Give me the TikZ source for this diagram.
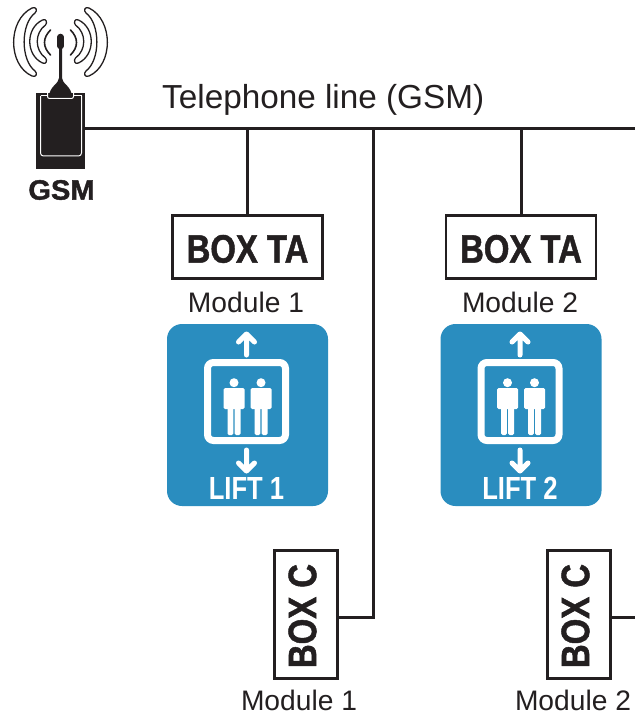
\documentclass[tikz,border=0pt]{standalone}
\usepackage{fontspec}
\setmainfont{Liberation Sans}
\newfontfamily\condfont[FakeStretch=0.83,FakeBold=1.2]{Liberation Sans Bold}
\newfontfamily\liftfont[FakeStretch=0.8]{Liberation Sans Bold}
\newfontfamily\gsmfont[FakeBold=1.5,FakeStretch=1.04]{Liberation Sans Bold}
\definecolor{liftblue}{HTML}{2A8DBF}
\definecolor{inkblack}{HTML}{231F20}
\tikzset{
    wire/.style={inkblack, line width=3pt},
    wave/.style={fill=white, draw=inkblack, line width=1.3pt, line join=round},
    boxta/.style={draw=inkblack, line width=2.4pt, fill=white, minimum width=150pt, minimum height=63pt, inner sep=0pt, outer sep=0pt},
    boxc/.style={boxta, minimum width=63pt, minimum height=128pt},
    boxlabel/.style={inkblack, font=\condfont\fontsize{39.6}{40}\selectfont, inner sep=0pt},
    modlabel/.style={inkblack, font=\fontsize{28.2}{28}\selectfont, inner sep=0pt},
    lift/.pic={
        \fill[liftblue, rounded corners=15pt] (-80.5,-91) rectangle (80.5,91);
        % cabin
        \draw[white, line width=7pt, rounded corners=6pt] (-40,-52.5) rectangle (38,25.5);
        % arrows
        \draw[white, line width=5pt, line cap=round, line join=round] (-1,-60) -- (-1,-81) (-9,-73) -- (-1,-81) -- (7,-73);
        \draw[white, line width=5pt, line cap=round, line join=round] (-1,35) -- (-1,56) (-9,48) -- (-1,56) -- (7,48);
        % people
        \foreach \px in {-13.5,13.5}{
            \fill[white] (\px,-32.3) circle (4.5);
            \fill[white, rounded corners=1.5pt] (\px-10.5,-27) rectangle (\px+10.5,-6);
            \fill[white, rounded corners=1.5pt] (\px-6.5,-15) rectangle (\px-0.7,20);
            \fill[white, rounded corners=1.5pt] (\px+0.7,-15) rectangle (\px+6.5,20);
        }
        \node[white, font=\liftfont\fontsize{32}{32}\selectfont, inner sep=0pt] (-label) at (-1,73.5) {LIFT #1};
    }
}
\begin{document}
\begin{tikzpicture}[x=1pt, y=-1pt]
    \useasboundingbox (0,0) rectangle (635,714);
    % radio waves
    \foreach \side in {1,-1}{
        \begin{scope}[shift={(60.5,0)}, xscale=\side]
            \draw[wave] (-28.5,8) .. controls (-53,20) and (-53,65) .. (-28.5,76) .. controls (-24,78) and (-23,73) .. (-25.5,71) .. controls (-40,60) and (-40,24) .. (-25.5,13) .. controls (-23,11) and (-24,6) .. (-28.5,8) -- cycle;
            \draw[wave] (-18,20) .. controls (-35,28) and (-35,55) .. (-18,63) .. controls (-14,65) and (-13,60) .. (-15,58) .. controls (-26,50) and (-26,33) .. (-15,25) .. controls (-13,23) and (-14,18) .. (-18,20) -- cycle;
            \draw[inkblack, line width=1.6pt, line cap=round] (-10,30) .. controls (-18,38) and (-18,47) .. (-10,55);
        \end{scope}
    }
    % gsm unit
    \node[fill=inkblack, minimum width=49pt, minimum height=76pt, inner sep=0pt, outer sep=0pt] (gsm) at (60.5,131) {};
    \draw[white, line width=1pt, rounded corners=3pt] (40.5,96) -- (40.5,156) -- (81.5,156) -- (81.5,96);
    \draw[white, line width=1pt] (40.5,96) -- (47,96);
    \draw[white, line width=1pt] (74,96) -- (81.5,96);
    \draw[white, line width=1pt, rounded corners=2pt] (47.5,93) -- (47.5,98.5) -- (73.5,98.5) -- (73.5,93);
    % antenna
    \draw[inkblack, line width=6.5pt, line cap=round] (60.5,37) -- (60.5,46);
    \fill[inkblack] (59,47) -- (62,47) -- (62,78) .. controls (62,84) and (72,86) .. (72,97.5) -- (49,97.5) .. controls (49,86) and (59,84) .. (59,78) -- cycle;
    \node[inkblack, font=\gsmfont\fontsize{28}{28}\selectfont, inner sep=0pt] (gsmlabel) at (61.5,190) {GSM};
    % line
    \coordinate (linestart) at (85,129);
    \coordinate (lineend) at (635,129);
    \node[inkblack, font=\fontsize{33.3}{33}\selectfont, inner sep=0pt, anchor=base west] (linelabel) at (162,109) {Telephone line (GSM)};
    % module 1
    \node[boxta] (boxta1) at (247.5,247) {};
    \node[boxlabel, yshift=-2pt] at (boxta1) {BOX TA};
    \node[modlabel] (modta1) at (246,302) {Module 1};
    \pic (lift1) at (247.5,415) {lift=1};
    \node[boxc] (boxc1) at (306,614.5) {};
    \node[boxlabel, rotate=90, xshift=-1.5pt, yshift=3.5pt] at (boxc1) {BOX C};
    \node[modlabel] (modc1) at (299,700.5) {Module 1};
    % module 2
    \node[boxta] (boxta2) at (521,247) {};
    \node[boxlabel, yshift=-2pt] at (boxta2) {BOX TA};
    \node[modlabel] (modta2) at (520,302) {Module 2};
    \pic (lift2) at (521,415) {lift=2};
    \node[boxc] (boxc2) at (579,614.5) {};
    \node[boxlabel, rotate=90, xshift=-1.5pt, yshift=3.5pt] at (boxc2) {BOX C};
    \node[modlabel] (modc2) at (573,700.5) {Module 2};
    % connectors
    \coordinate (trunk) at (373,129);
    \coordinate (port1) at (338,617);
    \coordinate (port2) at (611,617);
    \coordinate (port2end) at (635,617);
    \draw[wire] (linestart) -- (lineend);
    \draw[wire] (boxta1.north) -- (boxta1.north |- lineend);
    \draw[wire] (boxta2.north) -- (boxta2.north |- lineend);
    \draw[wire, line join=miter] (trunk) |- (port1);
    \draw[wire] (port2) -- (port2end);
\end{tikzpicture}
\end{document}
